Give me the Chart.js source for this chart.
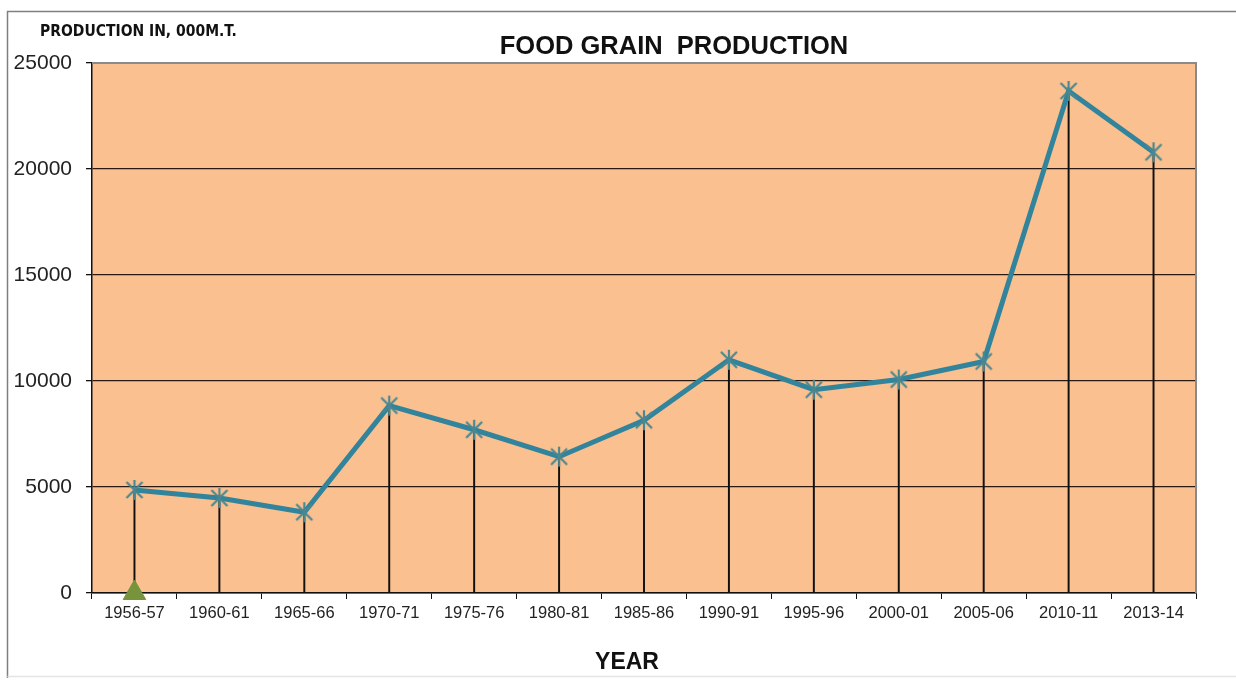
<!DOCTYPE html>
<html lang="en">
<head>
<meta charset="UTF-8">
<title>Food Grain Production</title>
<script src="https://cdn.jsdelivr.net/npm/chart.js@4.4.0/dist/chart.umd.min.js"></script>
<style>
  body { margin: 0; background: #fff; }
  #wrap { width: 1236px; height: 681px; position: relative; }
</style>
</head>
<body>
<div id="wrap"><canvas id="grain_chart"></canvas></div>
<script>
// data
const years = ['1956-57', '1960-61', '1965-66', '1970-71', '1975-76', '1980-81', '1985-86',
               '1990-91', '1995-96', '2000-01', '2005-06', '2010-11', '2013-14'];
const production = [4860, 4480, 3810, 8840, 7700, 6430, 8150, 11000, 9590, 10070, 10920, 23680, 20790];
const baseMarker = [0, null, null, null, null, null, null, null, null, null, null, null, null];
const yTicks = [0, 5000, 10000, 15000, 20000, 25000];

const narrow = "'DejaVu Sans Condensed', 'Liberation Sans', sans-serif";
const wide = "'Liberation Sans', Arial, sans-serif";

// asterisk marker like the excel "star" (X with a vertical bar)
function starMarker(size, color) {
    const c = document.createElement('canvas');
    c.width = size; c.height = size;
    const g = c.getContext('2d');
    const h = size / 2, r = h - 2;
    g.strokeStyle = color;
    g.lineWidth = 2.2;
    g.beginPath();
    g.moveTo(h - r * 0.8, h - r * 0.8); g.lineTo(h + r * 0.8, h + r * 0.8);
    g.moveTo(h + r * 0.8, h - r * 0.8); g.lineTo(h - r * 0.8, h + r * 0.8);
    g.moveTo(h, h - r); g.lineTo(h, h + r);
    g.stroke();
    return c;
}

const decor = {
    id: 'decor',
    beforeDraw(chart) {
        const ctx = chart.ctx, a = chart.chartArea;
        ctx.save();
        ctx.fillStyle = '#FAC08F';
        ctx.fillRect(a.left, a.top, a.right - a.left, a.bottom - a.top);
        // outer frame
        ctx.strokeStyle = '#7f7f7f';
        ctx.lineWidth = 1.5;
        ctx.beginPath();
        ctx.moveTo(7.5, 678); ctx.lineTo(7.5, 11.5); ctx.lineTo(1236, 11.5);
        ctx.stroke();
        ctx.strokeStyle = '#e4e4e4';
        ctx.beginPath();
        ctx.moveTo(7.5, 676.5); ctx.lineTo(1236, 676.5);
        ctx.stroke();
        ctx.restore();
    },
    afterDraw(chart) {
        const ctx = chart.ctx, a = chart.chartArea;
        ctx.save();
        ctx.strokeStyle = '#8a8a8a';
        ctx.lineWidth = 2;
        ctx.beginPath();
        ctx.moveTo(a.left, a.top); ctx.lineTo(a.right, a.top); ctx.lineTo(a.right, a.bottom);
        ctx.stroke();
        ctx.fillStyle = '#111';
        ctx.textBaseline = 'middle';
        ctx.textAlign = 'center';
        ctx.font = 'bold 25.5px ' + wide;
        ctx.fillText('FOOD GRAIN  PRODUCTION', 674, 47);
        ctx.font = 'bold 23px ' + wide;
        ctx.fillText('YEAR', 627, 663);
        ctx.textAlign = 'left';
        ctx.font = 'bold 15.5px ' + narrow;
        ctx.fillText('PRODUCTION IN, 000M.T.', 40, 32);
        ctx.restore();
    }
};

const ctx = document.getElementById('grain_chart').getContext('2d');
const grain_chart = new Chart(ctx, {
    data: {
        labels: years,
        datasets: [{
            type: 'line',
            label: 'Production',
            data: production,
            borderColor: '#31849B',
            borderWidth: 5,
            pointStyle: starMarker(24, '#4A8791'),
            pointRadius: 12,
            order: 0
        }, {
            type: 'line',
            label: 'Base',
            data: baseMarker,
            showLine: false,
            pointStyle: 'triangle',
            pointRadius: 13,
            backgroundColor: '#77933C',
            borderColor: '#77933C',
            borderWidth: 1,
            clip: false,
            order: 1
        }, {
            type: 'bar',
            label: 'drop',
            data: production,
            backgroundColor: '#111',
            barThickness: 1.3,
            order: 2
        }]
    },
    options: {
        responsive: true,
        maintainAspectRatio: false,
        animation: false,
        layout: { padding: { left: 0, top: 63, right: 40, bottom: 0 } },
        plugins: {
            legend: { display: false },
            tooltip: { enabled: false },
            title: { display: false }
        },
        scales: {
            x: {
                offset: true,
                grid: {
                    offset: true,
                    drawOnChartArea: false,
                    drawTicks: true,
                    tickLength: 6,
                    tickColor: '#111'
                },
                border: { display: true, color: '#111', width: 1.5 },
                ticks: {
                    color: '#222',
                    padding: 5,
                    maxRotation: 0,
                    autoSkip: false,
                    font: { family: wide, size: 16.5 }
                },
                afterFit(scale) { scale.height = 88; }
            },
            y: {
                min: 0,
                max: 25000,
                afterBuildTicks(scale) { scale.ticks = yTicks.map(v => ({ value: v })); },
                grid: {
                    color: c => (c.tick && c.tick.value === 25000) ? '#8a8a8a' : '#2a1a14',
                    lineWidth: 1.3,
                    tickLength: 6,
                    tickColor: '#111'
                },
                border: { display: true, color: '#111', width: 1.5 },
                ticks: {
                    color: '#222',
                    padding: 14,
                    callback: v => String(v),
                    font: { family: wide, size: 21 }
                },
                afterFit(scale) { scale.width = 92; }
            }
        }
    },
    plugins: [decor]
});
</script>
</body>
</html>
